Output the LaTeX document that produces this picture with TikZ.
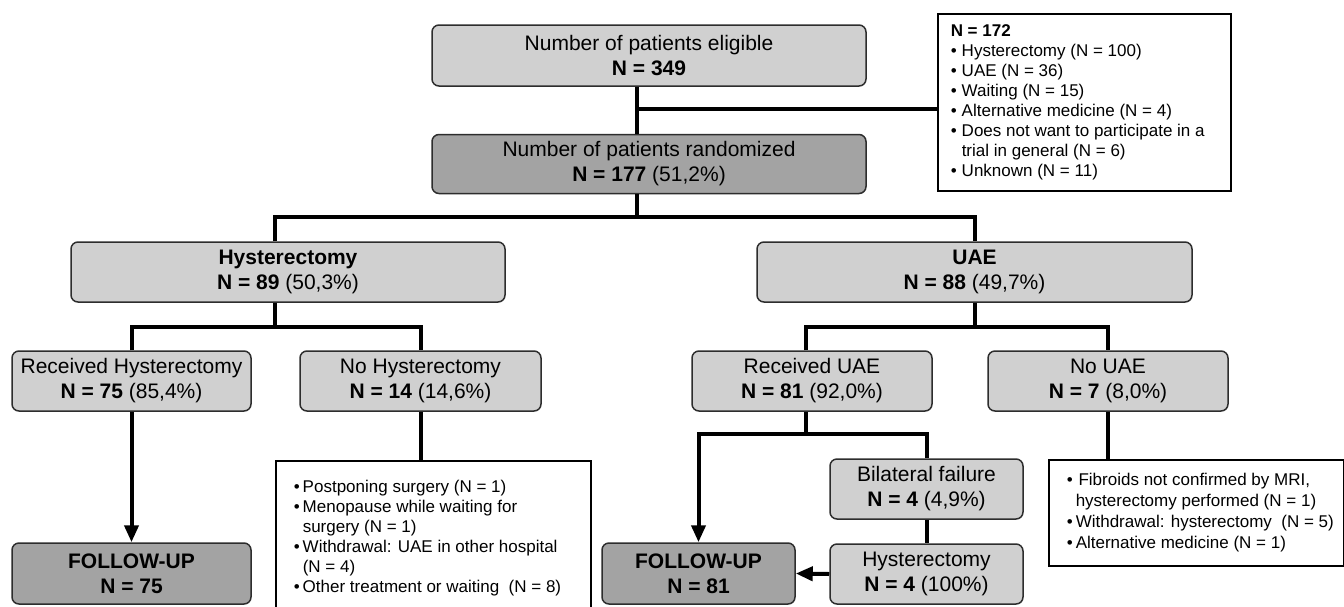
\documentclass[tikz,border=0pt]{standalone}
\usepackage{fontspec}
\setmainfont{Liberation Sans}
\usetikzlibrary{arrows.meta}
\definecolor{lightbox}{RGB}{208,208,208}
\definecolor{darkbox}{RGB}{163,163,163}
\definecolor{edgegray}{RGB}{45,45,45}
\begin{document}
\begin{tikzpicture}[x=1pt,y=-1pt,
  box/.style={draw=edgegray, line width=1.5pt, rounded corners=7pt, fill=lightbox,
    align=center, inner sep=2pt, font=\fontsize{21}{25}\selectfont},
  dbox/.style={box, fill=darkbox},
  note/.style={draw=black, line width=1.5pt, fill=white, anchor=north west,
    inner xsep=18pt, font=\fontsize{17}{20}\selectfont},
  conn/.style={line width=4pt, draw=black},
  arr/.style={conn, -{Triangle[length=17pt,width=14pt]}}]
\fill[white] (0,0) rectangle (1344,606);
\useasboundingbox (0,0) rectangle (1344,606);
\clip (0,0) rectangle (1344,606);

% main boxes
\node[box, minimum width=434pt, minimum height=61pt] (eligible) at (649,55.5)
  {Number of patients eligible\\\textbf{N = 349}};
\node[dbox, minimum width=434pt, minimum height=59pt] (randomized) at (649,164)
  {Number of patients randomized\\\textbf{N = 177} (51,2\%)};
\node[box, minimum width=434pt, minimum height=60pt] (hyst) at (288,272)
  {\textbf{Hysterectomy}\\\textbf{N = 89} (50,3\%)};
\node[box, minimum width=435pt, minimum height=60pt] (uae) at (974.5,272)
  {\textbf{UAE}\\\textbf{N = 88} (49,7\%)};

\node[box, minimum width=239pt, minimum height=60pt] (rhyst) at (131.5,381)
  {Received Hysterectomy\\\textbf{N = 75} (85,4\%)};
\node[box, minimum width=241pt, minimum height=60pt] (nohyst) at (420.5,381)
  {No Hysterectomy\\\textbf{N = 14} (14,6\%)};
\node[box, minimum width=240pt, minimum height=60pt] (ruae) at (812,381)
  {Received UAE\\\textbf{N = 81} (92,0\%)};
\node[box, minimum width=240pt, minimum height=60pt] (nouae) at (1108,381)
  {No UAE\\\textbf{N = 7} (8,0\%)};

\node[dbox, minimum width=239pt, minimum height=61pt] (fu75) at (131.5,573.5)
  {\textbf{FOLLOW-UP}\\\textbf{N = 75}};
\node[dbox, minimum width=193pt, minimum height=61pt] (fu81) at (698.5,573.5)
  {\textbf{FOLLOW-UP}\\\textbf{N = 81}};
\node[box, minimum width=193pt, minimum height=60pt] (bil) at (926.5,489)
  {Bilateral failure\\\textbf{N = 4} (4,9\%)};
\node[box, minimum width=193pt, minimum height=60pt] (hyst2) at (926.5,574)
  {Hysterectomy\\\textbf{N = 4} (100\%)};

% note boxes
\node[note, inner xsep=13pt, inner ysep=8.5pt] (side) at (937,13)
  {\makebox[267pt][l]{\begin{tabular}{@{}p{11pt}@{}l@{}}
   \multicolumn{2}{@{}l@{}}{\textbf{N = 172}}\\
   • & Hysterectomy (N = 100)\\
   • & UAE (N = 36)\\
   • & Waiting (N = 15)\\
   • & Alternative medicine (N = 4)\\
   • & Does not want to participate in a\\
     & trial in general (N = 6)\\
   • & Unknown (N = 11)
  \end{tabular}}};
\node[note, inner ysep=18pt] (nhbox) at (275,460)
  {\makebox[279pt][l]{\begin{tabular}{@{}p{9pt}@{}l@{}}
   • & Postponing surgery (N = 1)\\
   • & Menopause while waiting for\\
     & surgery (N = 1)\\
   • & Withdrawal: UAE in other hospital\\
     & (N = 4)\\
   • & Other treatment or waiting\ \ (N = 8)
  \end{tabular}}};
\node[note, inner ysep=11pt, font=\fontsize{17}{21}\selectfont] (nubox) at (1048,459)
  {\makebox[259pt][l]{\begin{tabular}{@{}p{9pt}@{}l@{}}
   • & \,Fibroids not confirmed by MRI,\\
     & hysterectomy performed (N = 1)\\
   • & Withdrawal: hysterectomy\ \ (N = 5)\\
   • & Alternative medicine (N = 1)
  \end{tabular}}};

% junction coordinates
\coordinate (j1) at (637,109);
\coordinate (j2) at (637,217);
\coordinate (hx) at (275,217);
\coordinate (ux) at (975,217);
\coordinate (hs) at (275,327);
\coordinate (us) at (975,327);
\coordinate (rs) at (806,434);

% connectors
\draw[conn] (eligible.south -| j1) -- (randomized.north -| j1);
\draw[conn] (j1) -- (j1 -| side.west);
\draw[conn] (randomized.south -| j2) -- (j2);
\draw[conn] (hyst.north -| hx) |- (ux) -- (uae.north -| ux);

\draw[conn] (hyst.south -| hs) -- (hs);
\draw[conn] (rhyst.north) |- (hs) -| (nohyst.north);
\draw[conn] (uae.south -| us) -- (us);
\draw[conn] (ruae.north -| rs) |- (us) -| (nouae.north);

\draw[arr] (rhyst.south) -- (fu75.north);
\draw[conn] (nohyst.south) -- (nohyst.south |- nhbox.north);

\draw[conn] (ruae.south -| rs) -- (rs);
\draw[arr] (bil.north) |- (rs) -| (fu81.north);
\draw[conn] (bil.south) -- (hyst2.north);
\draw[arr] (hyst2.west) -- (fu81.east);

\draw[conn] (nouae.south) -- (nouae.south |- nubox.north);
\end{tikzpicture}
\end{document}
